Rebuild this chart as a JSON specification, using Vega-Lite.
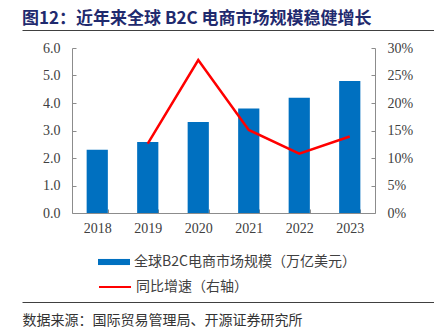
{
  "$schema": "https://vega.github.io/schema/vega-lite/v6.json",
  "padding": {"left": 22, "top": 10, "right": 0, "bottom": 0},
  "background": "white",
  "config": {"view": {"stroke": null}, "font": "Noto Sans CJK SC"},
  "spacing": 11,
  "vconcat": [
    {
      "width": 412,
      "height": 1,
      "title": {"text": "图12：近年来全球 B2C 电商市场规模稳健增长", "anchor": "start", "font": "Noto Sans CJK SC", "fontSize": 17, "fontWeight": "bold", "color": "#1F2A6E", "offset": 1},
      "data": {"values": [{"v": 0.5}]},
      "mark": {"type": "rule", "strokeOpacity": 0},
      "encoding": {
        "x": {"field": "v", "type": "quantitative", "scale": {"domain": [0, 1]},
          "axis": {"domain": true, "domainColor": "#404040", "domainWidth": 1, "ticks": false, "labels": false, "grid": false, "title": null}}
      }
    },
    {
      "width": 353,
      "height": 165,
      "data": {"values": [
        {"year": "2018", "scale": 2.3, "growth": null},
        {"year": "2019", "scale": 2.58, "growth": 0.126},
        {"year": "2020", "scale": 3.31, "growth": 0.278},
        {"year": "2021", "scale": 3.8, "growth": 0.151},
        {"year": "2022", "scale": 4.19, "growth": 0.108},
        {"year": "2023", "scale": 4.8, "growth": 0.139}
      ]},
      "encoding": {
        "x": {"field": "year", "type": "ordinal", "scale": {"paddingInner": 0.58, "paddingOuter": 0.29, "rangeMin": 50},
          "axis": {"title": null, "labelAngle": 0, "labelFont": "Liberation Serif", "labelFontSize": 14, "labelColor": "#404040", "domainColor": "#8c8c8c", "tickColor": "#8c8c8c", "tickSize": -4, "tickBand": "extent", "labelPadding": 12, "grid": false}}
      },
      "layer": [
        {
          "mark": {"type": "bar", "color": "#0070C0"},
          "encoding": {
            "y": {"field": "scale", "type": "quantitative", "scale": {"domain": [0, 6], "nice": false},
              "axis": {"title": null, "offset": -50, "values": [0, 1, 2, 3, 4, 5, 6], "format": ".1f", "labelFont": "Liberation Serif", "labelFontSize": 14, "labelColor": "#404040", "domainColor": "#8c8c8c", "tickColor": "#8c8c8c", "tickSize": -4, "labelPadding": 16, "grid": false}},
            "fill": {"datum": "全球B2C电商市场规模（万亿美元）", "type": "nominal", "scale": {"range": ["#0070C0"]},
              "legend": {"orient": "none", "legendX": 84, "legendY": 225, "title": null, "symbolType": "M-2,-0.38H2V0.38H-2Z", "symbolSize": 256, "symbolStrokeWidth": 0, "labelFont": "Noto Sans CJK SC", "labelFontSize": 14, "labelColor": "#404040", "labelOffset": 12, "labelLimit": 0, "padding": 0}}
          }
        },
        {
          "mark": {"type": "line", "color": "#FF0000", "strokeWidth": 2.5},
          "encoding": {
            "y": {"field": "growth", "type": "quantitative", "scale": {"domain": [0, 0.3], "nice": false},
              "axis": {"orient": "right", "title": null, "values": [0, 0.05, 0.1, 0.15, 0.2, 0.25, 0.3], "format": ".0%", "labelFont": "Liberation Serif", "labelFontSize": 14, "labelColor": "#404040", "domainColor": "#8c8c8c", "tickColor": "#8c8c8c", "tickSize": -4, "labelPadding": 16, "grid": false}},
            "stroke": {"datum": "同比增速（右轴）", "type": "nominal", "scale": {"range": ["#FF0000"]},
              "legend": {"orient": "none", "legendX": 84, "legendY": 249, "title": null, "symbolType": "M-2,0H2", "symbolSize": 256, "symbolStrokeWidth": 2, "labelFont": "Noto Sans CJK SC", "labelFontSize": 14, "labelColor": "#404040", "labelOffset": 12, "labelLimit": 0, "padding": 0}}
          }
        }
      ],
      "resolve": {"scale": {"y": "independent"}}
    },
    {
      "width": 412,
      "height": 56,
      "data": {"values": [{"v": 0.5}]},
      "mark": {"type": "rule", "strokeOpacity": 0},
      "encoding": {
        "x": {"field": "v", "type": "quantitative", "scale": {"domain": [0, 1]},
          "axis": {"domain": true, "domainColor": "#404040", "domainWidth": 1, "ticks": false, "labels": false, "grid": false,
            "title": "数据来源：国际贸易管理局、开源证券研究所", "titleAnchor": "start", "titleAlign": "left", "titleFont": "Noto Sans CJK SC", "titleFontSize": 14, "titleFontWeight": "normal", "titleColor": "#333333", "titlePadding": 11}}
      }
    }
  ]
}
